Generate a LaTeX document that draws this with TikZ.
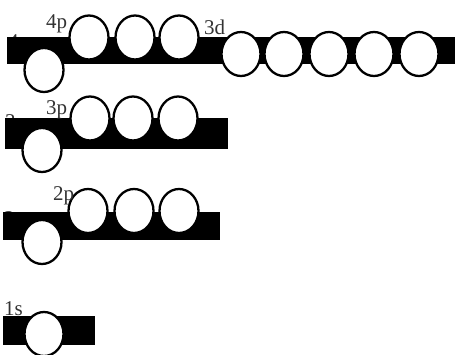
\documentclass[tikz,border=0pt]{standalone}
\usepackage{fontspec}
\setmainfont{Liberation Serif}
\usetikzlibrary{shapes.geometric}
\tikzset{
  orb/.style={ellipse, draw=black, fill=white, line width=2.3pt, inner sep=0pt,
    minimum width=39pt, minimum height=44pt},
  shell/.style={fill=black},
  lvl/.style={inner sep=0pt, text=black!80, font=\fontsize{21}{21}\selectfont, anchor=base west}
}
\begin{document}
\begin{tikzpicture}[x=1pt, y=-1pt]
\useasboundingbox (0,0) rectangle (461,355);
% hidden s labels (under the bars)
\node[lvl] (l4s) at (8,49) {4s};
\node[lvl] (l3s) at (5,129) {3s};
\node[lvl] (l2s) at (4,226) {2s};
% n = 4
\fill[shell] (7,37) rectangle (455,64);
\node[orb] (s4) at (44,70) {};
\foreach \x/\n in {89/a,135/b,179/c} \node[orb] (p4\n) at (\x,37.5) {};
\foreach \x/\n in {241/a,284/b,329/c,374/d,419/e} \node[orb] (d3\n) at (\x,54) {};
\node[lvl] (l4p) at (46,29) {4p};
\node[lvl] (l3d) at (204,35) {3d};
% n = 3
\fill[shell] (5,118) rectangle (228,149);
\node[orb] (s3) at (42,150) {};
\foreach \x/\n in {90/a,133/b,178/c} \node[orb] (p3\n) at (\x,118.5) {};
\node[lvl] (l3p) at (46,115) {3p};
% n = 2
\fill[shell] (3,212) rectangle (220,240);
\node[orb] (s2) at (42,242) {};
\foreach \x/\n in {88/a,134/b,179/c} \node[orb] (p2\n) at (\x,211) {};
\node[lvl] (l2p) at (53,201) {2p};
% n = 1
\fill[shell] (3,316) rectangle (95,345);
\node[orb] (s1) at (44,334) {};
\node[lvl] (l1s) at (4,316) {1s};
\end{tikzpicture}
\end{document}
